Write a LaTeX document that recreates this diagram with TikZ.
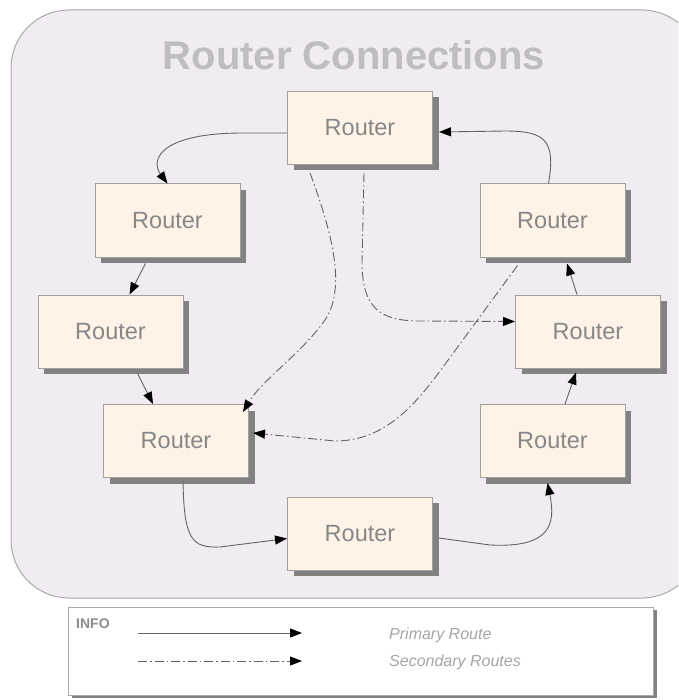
\documentclass[tikz,border=0pt]{standalone}
\usepackage{fontspec}
\setmainfont{Liberation Sans}
\usetikzlibrary{arrows.meta,shadows}
\definecolor{bgc}{RGB}{241,235,242}
\definecolor{framec}{RGB}{170,170,170}
\definecolor{boxc}{RGB}{255,243,232}
\definecolor{boxline}{RGB}{160,160,160}
\definecolor{shadc}{RGB}{130,130,130}
\definecolor{titlec}{RGB}{190,190,192}
\definecolor{textc}{RGB}{135,135,135}
\definecolor{linec}{RGB}{100,100,100}
\tikzset{
 router/.style={draw=boxline, line width=1pt, fill=boxc, minimum width=145pt, minimum height=73pt, inner sep=0pt, text=textc, font=\fontsize{23.5}{27}\selectfont, drop shadow={shadow xshift=6pt, shadow yshift=-6pt, fill=shadc, opacity=1}},
 prim/.style={draw=linec, line width=0.9pt, -{Triangle[length=12pt,width=9pt,fill=black,color=black]}},
 sec/.style={prim, dash pattern=on 9pt off 3pt on 1.5pt off 3pt},
 legtext/.style={anchor=west, inner sep=0pt, font=\itshape\fontsize{16}{19}\selectfont, text=gray!70}
}
\begin{document}
\begin{tikzpicture}[x=1pt,y=-1pt]
\useasboundingbox (0,0) rectangle (678,700);
\clip (0,0) rectangle (678,700);
\fill[white] (0,0) rectangle (678,700);
\draw[fill=bgc, draw=framec, line width=1pt, rounded corners=58pt] (11,10) rectangle (700,598);
\node[font=\bfseries\fontsize{40}{44}\selectfont, text=titlec] (title) at (354,55) {Router Connections};

\node[router] (T) at (360,128) {Router};
\node[router] (L1) at (167.5,220.5) {Router};
\node[router] (L2) at (110.5,331.5) {Router};
\node[router] (L3) at (176,441) {Router};
\node[router] (B) at (360,533.5) {Router};
\node[router] (R3) at (552.5,441) {Router};
\node[router] (R2) at (588,331.5) {Router};
\node[router] (R1) at (552.5,220.5) {Router};

% primary
\draw[prim] ([yshift=-5pt]T.west) -- (243,133) .. controls (160,133) and (150,160) .. (L1.north);
\draw[prim] ([xshift=-22pt,yshift=-6pt]L1.south) -- ([xshift=19pt]L2.north);
\draw[prim] ([xshift=27pt,yshift=-5pt]L2.south) -- ([xshift=-23pt]L3.north);
\draw[prim] ([xshift=7pt,yshift=-3pt]L3.south) .. controls (184,540) and (192,548) .. (220,547) -- ([yshift=-5pt]B.west);
\draw[prim] ([xshift=6pt,yshift=-4.5pt]B.east) -- (490,545) .. controls (550,548) and (556,525) .. ([xshift=-5pt,yshift=-5pt]R3.south);
\draw[prim] ([xshift=12.5pt]R3.north) -- ([xshift=-12pt,yshift=-4pt]R2.south);
\draw[prim] ([xshift=-11pt]R2.north) -- ([xshift=14.5pt,yshift=-6pt]R1.south);
\draw[prim] ([xshift=-4pt]R1.north) .. controls (556,140) and (545,131) .. (505,131) -- ([xshift=6pt,yshift=-4pt]T.east);

% secondary
\draw[sec] ([xshift=-50pt,yshift=-8pt]T.south) .. controls (335,240) and (345,290) .. (325,320) .. controls (300,355) and (262,380) .. ([xshift=-6pt,yshift=-8pt]L3.north east);
\draw[sec] ([xshift=4pt,yshift=-8pt]T.south) -- (362,262) .. controls (362,308) and (380,321) .. (420,321) -- ([yshift=10pt]R2.west);
\draw[sec] ([xshift=-35pt,yshift=-8pt]R1.south) -- (443,367) .. controls (415,405) and (385,441) .. (335,441) -- ([xshift=4pt,yshift=8pt]L3.east);

% legend
\node[draw=framec, fill=white, minimum width=585pt, minimum height=88pt, inner sep=0pt, drop shadow={shadow xshift=4pt, shadow yshift=-3pt, fill=shadc, opacity=1}] (leg) at (360.5,651) {};
\node[anchor=west, inner sep=0pt, font=\bfseries\fontsize{14}{16}\selectfont, text=gray!90] (info) at (76,624) {INFO};
\coordinate (p1) at (138,633);
\coordinate (p2) at (302,633);
\coordinate (s1) at (138,661);
\coordinate (s2) at (302,661);
\draw[prim] (p1) -- (p2);
\draw[sec] (s1) -- (s2);
\node[legtext] (pr) at (389,635) {Primary Route};
\node[legtext] (sr) at (389,662) {Secondary Routes};
\end{tikzpicture}
\end{document}
